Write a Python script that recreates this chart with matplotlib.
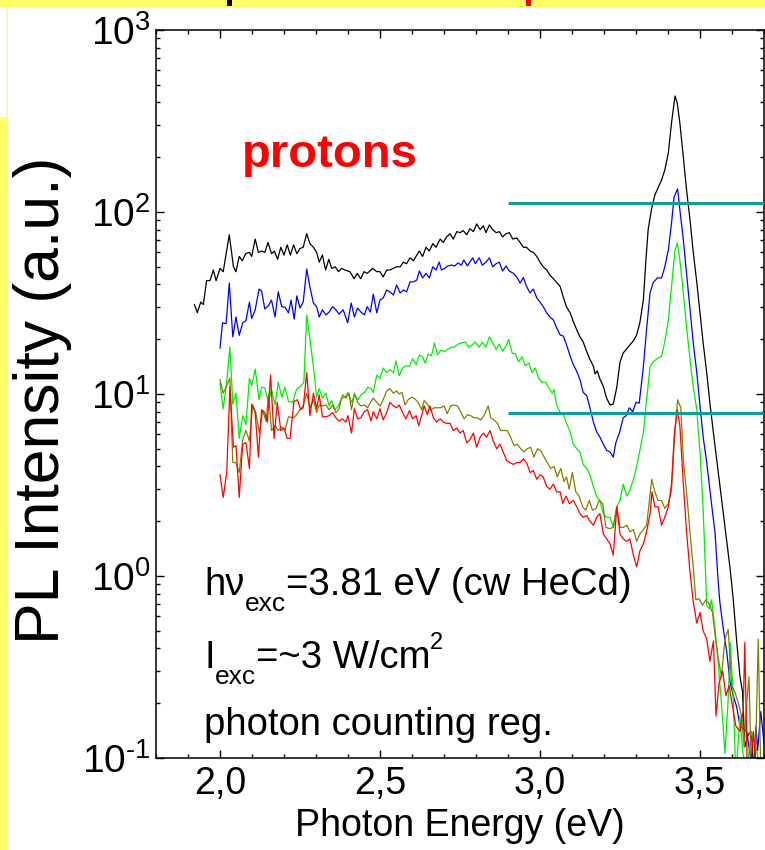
import math
import matplotlib
matplotlib.use("Agg")
import matplotlib.pyplot as plt
from matplotlib.patches import Rectangle
from matplotlib.transforms import offset_copy
from matplotlib.ticker import FixedLocator, MultipleLocator, FuncFormatter, LogLocator

plt.rcParams["font.family"] = ["Liberation Sans", "DejaVu Sans"]
plt.rcParams["mathtext.fontset"] = "custom"
plt.rcParams["mathtext.rm"] = "Liberation Sans"
plt.rcParams["mathtext.it"] = "Liberation Sans"
plt.rcParams["mathtext.bf"] = "Liberation Sans:bold"
plt.rcParams["axes.unicode_minus"] = False

# ---------------------------------------------------------------------------
# spectra (photon energy in eV, PL intensity in a.u.)
# ---------------------------------------------------------------------------
e_black = [1.920, 1.929, 1.940, 1.948, 1.958, 1.969, 1.979, 1.988, 2.000, 2.010,
           2.029, 2.042, 2.050, 2.060, 2.070, 2.080, 2.092, 2.099, 2.110, 2.120,
           2.130, 2.140, 2.150, 2.161, 2.170, 2.180, 2.190, 2.200, 2.210, 2.220,
           2.230, 2.240, 2.250, 2.260, 2.271, 2.281, 2.292, 2.302, 2.310, 2.320,
           2.330, 2.340, 2.349, 2.360, 2.370, 2.380, 2.390, 2.406, 2.419, 2.429,
           2.440, 2.450, 2.460, 2.477, 2.490, 2.500, 2.510, 2.521, 2.531, 2.542,
           2.552, 2.563, 2.573, 2.583, 2.594, 2.604, 2.615, 2.623, 2.633, 2.644,
           2.654, 2.665, 2.675, 2.688, 2.698, 2.708, 2.719, 2.729, 2.740, 2.750,
           2.760, 2.771, 2.781, 2.792, 2.802, 2.813, 2.823, 2.831, 2.842, 2.852,
           2.863, 2.873, 2.883, 2.894, 2.904, 2.915, 2.927, 2.938, 2.948, 2.958,
           2.969, 2.979, 2.990, 3.000, 3.010, 3.021, 3.031, 3.042, 3.052, 3.063,
           3.073, 3.083, 3.094, 3.104, 3.115, 3.125, 3.135, 3.146, 3.156, 3.167,
           3.172, 3.179, 3.187, 3.198, 3.208, 3.219, 3.229, 3.240, 3.250, 3.260,
           3.271, 3.281, 3.292, 3.302, 3.312, 3.323, 3.331, 3.338, 3.349, 3.359,
           3.370, 3.380, 3.390, 3.401, 3.411, 3.422, 3.429, 3.437, 3.448, 3.458,
           3.469, 3.479, 3.490, 3.500, 3.510, 3.521, 3.531, 3.542, 3.552, 3.562,
           3.573, 3.583, 3.594, 3.604, 3.615, 3.625, 3.633, 3.640, 3.651, 3.661,
           3.668]
i_black = [31, 28, 32, 31, 42, 42, 48, 42, 49, 47,
           75, 50, 47, 57, 54, 59, 60, 57, 71, 60,
           61, 60, 68, 59, 61, 55, 64, 58, 66, 58,
           66, 59, 63, 64, 76, 67, 64, 60, 53, 58,
           48, 55, 49, 50, 47, 49, 48, 47, 43, 46,
           43, 47, 46, 49, 47, 47, 44, 48, 48, 49,
           50, 50, 53, 52, 56, 54, 58, 61, 57, 64,
           61, 67, 64, 71, 68, 73, 76, 71, 78, 77,
           79, 75, 81, 78, 86, 80, 84, 77, 85, 80,
           77, 78, 73, 76, 77, 71, 72, 68, 64, 64,
           61, 60, 57, 53, 50, 48, 45, 43, 41, 39,
           34, 30, 28, 25, 22.5, 20.6, 19.3, 17.1, 15.5, 14.2,
           12.9, 13.4, 12.1, 11.0, 9.5, 8.7, 8.8, 10.9, 15.0, 16.8,
           17.7, 18.6, 19.6, 21.1, 24.6, 32.8, 54.5, 80, 105, 124,
           137, 150, 170, 211, 309, 434, 396, 309, 200, 132,
           90, 60, 41, 28, 19, 13.1, 8.9, 6.1, 4.4, 3.2,
           2.2, 1.58, 1.1, 0.74, 0.43, 0.28, 0.23, 0.115, 0.135, 0.14,
           0.08]

e_blue = [2.000, 2.008, 2.019, 2.029, 2.040, 2.050, 2.060, 2.071, 2.081, 2.092,
          2.099, 2.110, 2.122, 2.130, 2.140, 2.151, 2.161, 2.172, 2.182, 2.193,
          2.203, 2.214, 2.222, 2.232, 2.240, 2.250, 2.260, 2.271, 2.281, 2.292,
          2.302, 2.310, 2.320, 2.331, 2.341, 2.352, 2.362, 2.372, 2.385, 2.399,
          2.410, 2.420, 2.430, 2.440, 2.451, 2.460, 2.470, 2.479, 2.490, 2.500,
          2.510, 2.521, 2.531, 2.542, 2.552, 2.563, 2.573, 2.583, 2.594, 2.604,
          2.615, 2.623, 2.633, 2.644, 2.654, 2.665, 2.675, 2.685, 2.692, 2.702,
          2.712, 2.723, 2.733, 2.744, 2.754, 2.762, 2.773, 2.783, 2.790, 2.798,
          2.810, 2.820, 2.831, 2.842, 2.852, 2.863, 2.873, 2.883, 2.894, 2.904,
          2.917, 2.927, 2.938, 2.948, 2.958, 2.969, 2.979, 2.990, 3.000, 3.010,
          3.021, 3.031, 3.042, 3.052, 3.063, 3.073, 3.083, 3.094, 3.104, 3.115,
          3.125, 3.135, 3.146, 3.156, 3.167, 3.177, 3.187, 3.198, 3.208, 3.219,
          3.229, 3.237, 3.248, 3.260, 3.269, 3.279, 3.290, 3.300, 3.310, 3.323,
          3.333, 3.344, 3.354, 3.367, 3.380, 3.390, 3.401, 3.411, 3.419, 3.430,
          3.437, 3.448, 3.458, 3.469, 3.479, 3.490, 3.500, 3.510, 3.521, 3.531,
          3.547, 3.557, 3.562, 3.573, 3.583, 3.594, 3.604, 3.615, 3.625, 3.635,
          3.646, 3.656, 3.667, 3.675, 3.680, 3.690, 3.700]
i_blue = [17.9, 24.6, 24.3, 40.7, 20.6, 26.5, 21, 24.6, 25.3, 32,
          26, 29, 37.7, 36.8, 29.3, 30.5, 32.8, 26.5, 36.4, 30.2,
          30, 27.9, 32.8, 25.8, 34.6, 29.7, 32, 48.6, 38.7, 31.6,
          30.2, 26.5, 29, 27.2, 28.2, 30.2, 29, 27.5, 29, 24.6,
          31.6, 26.5, 29.7, 28.2, 27.2, 30.2, 28.2, 35.4, 27.9, 32.8,
          33.7, 37.3, 36.4, 35, 39.7, 35.9, 37.3, 36.4, 41.3, 41.3,
          42.3, 47.4, 43.4, 46, 43.4, 50, 48, 53.1, 48, 49,
          50.5, 51.1, 50.5, 52.5, 51, 54.5, 50.5, 53.8, 56, 52,
          56, 51, 53, 56, 50, 52, 53, 47.4, 50.5, 47.4,
          46, 44, 40.7, 43.7, 39, 35.9, 37.7, 33.7, 32, 30.2,
          27.9, 26.5, 25.5, 23.1, 21.1, 20.8, 18.6, 16.2, 14.5, 13.3,
          12, 10.2, 9.8, 8.4, 7.0, 6.2, 5.8, 5.3, 4.9, 4.8,
          4.5, 5.4, 6.1, 7.4, 7.6, 8.4, 8.0, 9.0, 8.9, 14.1,
          22.6, 36, 41, 43.4, 43.4, 50, 61.8, 87, 121, 134,
          103, 70, 46, 29, 19, 13.1, 8.6, 5.8, 4.2, 2.96,
          1.72, 0.92, 0.72, 0.51, 0.39, 0.26, 0.22, 0.19, 0.15, 0.145,
          0.14, 0.106, 0.08, 0.15, 0.11, 0.18, 0.12]

e_green = [2.000, 2.010, 2.021, 2.031, 2.040, 2.050, 2.060, 2.071, 2.081, 2.092,
           2.099, 2.110, 2.122, 2.130, 2.140, 2.151, 2.161, 2.172, 2.182, 2.193,
           2.203, 2.214, 2.227, 2.240, 2.250, 2.262, 2.271, 2.281, 2.292, 2.302,
           2.310, 2.320, 2.331, 2.341, 2.349, 2.359, 2.370, 2.380, 2.390, 2.400,
           2.411, 2.421, 2.431, 2.441, 2.452, 2.462, 2.472, 2.479, 2.490, 2.500,
           2.510, 2.521, 2.531, 2.542, 2.550, 2.560, 2.571, 2.581, 2.592, 2.602,
           2.613, 2.623, 2.633, 2.641, 2.651, 2.661, 2.670, 2.680, 2.690, 2.702,
           2.712, 2.723, 2.733, 2.744, 2.754, 2.767, 2.777, 2.788, 2.798, 2.810,
           2.820, 2.831, 2.842, 2.852, 2.863, 2.873, 2.883, 2.894, 2.902, 2.913,
           2.923, 2.933, 2.944, 2.954, 2.965, 2.975, 2.985, 2.996, 3.006, 3.017,
           3.027, 3.038, 3.044, 3.052, 3.063, 3.073, 3.083, 3.094, 3.104, 3.115,
           3.125, 3.135, 3.146, 3.156, 3.167, 3.177, 3.187, 3.198, 3.208, 3.219,
           3.229, 3.240, 3.250, 3.260, 3.271, 3.281, 3.292, 3.302, 3.312, 3.323,
           3.331, 3.344, 3.352, 3.365, 3.380, 3.390, 3.401, 3.411, 3.422, 3.429,
           3.437, 3.448, 3.458, 3.469, 3.479, 3.490, 3.495, 3.500, 3.510, 3.521,
           3.529, 3.536, 3.547, 3.557, 3.567, 3.578, 3.588, 3.595, 3.604, 3.612,
           3.625, 3.633, 3.645, 3.660, 3.677, 3.690]
i_green = [11.5, 8.3, 11.6, 18.1, 8.8, 10.1, 5.7, 7.6, 6.8, 12.2,
           11.1, 13.7, 9.3, 10.9, 10.8, 9.0, 10.6, 8.7, 11.6, 9.6,
           10.9, 9.1, 9.0, 10.7, 10.9, 11.6, 27.2, 19.8, 14.1, 9.6,
           10.7, 9.5, 10.1, 8.6, 9.2, 8.2, 8.6, 9.5, 9.6, 10.2,
           9.0, 9.9, 9.3, 9.9, 10.2, 10.9, 10.7, 10.2, 12.7, 12.2,
           13.9, 13.1, 13.6, 13.1, 15.2, 12.6, 13.9, 14.3, 14.2, 15.6,
           14.5, 16.4, 16, 14.8, 16.6, 16.2, 19.1, 16.4, 17.4, 17.1,
           17.6, 18.1, 18.1, 18.8, 19.1, 19.3, 18.1, 18.6, 19.3, 18.1,
           19.3, 18.1, 20.6, 19.1, 17.6, 18.8, 17.2, 18.4, 20, 16.8,
           16.6, 15.0, 16, 14.3, 14.8, 13.1, 13.9, 12.2, 11.6, 11.6,
           10.9, 10.1, 10.6, 8.7, 7.9, 7.7, 6.9, 6.2, 5.3, 5.0,
           4.8, 4.1, 3.9, 3.6, 3.1, 2.75, 2.6, 2.2, 2.1, 2.1,
           1.85, 2.4, 2.6, 3.2, 2.75, 2.96, 3.4, 4.0, 4.9, 6.1,
           8.6, 14.1, 14.9, 15.6, 16.1, 19.4, 25.5, 38.8, 61.8, 67.6,
           54.5, 36, 23.3, 15.4, 10.9, 8.2, 6.2, 4.8, 2.3, 0.69,
           0.66, 0.74, 0.51, 0.33, 0.2, 0.106, 0.21, 0.43, 0.21, 0.08,
           0.17, 0.11, 0.08, 0.14, 0.11, 0.08]

e_olive = [2.000, 2.010, 2.021, 2.031, 2.040, 2.050, 2.060, 2.071, 2.081, 2.092,
           2.102, 2.112, 2.123, 2.133, 2.144, 2.152, 2.161, 2.172, 2.182, 2.193,
           2.203, 2.214, 2.229, 2.240, 2.250, 2.260, 2.271, 2.281, 2.292, 2.302,
           2.310, 2.320, 2.331, 2.341, 2.352, 2.362, 2.372, 2.383, 2.393, 2.403,
           2.411, 2.420, 2.430, 2.440, 2.451, 2.461, 2.472, 2.479, 2.490, 2.500,
           2.510, 2.521, 2.531, 2.542, 2.552, 2.560, 2.569, 2.578, 2.588, 2.599,
           2.609, 2.619, 2.630, 2.638, 2.648, 2.659, 2.669, 2.679, 2.690, 2.700,
           2.710, 2.721, 2.731, 2.742, 2.752, 2.763, 2.773, 2.783, 2.794, 2.804,
           2.815, 2.825, 2.838, 2.846, 2.856, 2.867, 2.877, 2.888, 2.898, 2.908,
           2.919, 2.929, 2.940, 2.950, 2.960, 2.971, 2.981, 2.992, 3.002, 3.013,
           3.023, 3.033, 3.044, 3.054, 3.065, 3.075, 3.083, 3.091, 3.101, 3.112,
           3.122, 3.133, 3.143, 3.154, 3.164, 3.175, 3.185, 3.196, 3.206, 3.217,
           3.229, 3.240, 3.250, 3.260, 3.271, 3.281, 3.292, 3.302, 3.312, 3.323,
           3.333, 3.341, 3.349, 3.359, 3.369, 3.380, 3.390, 3.401, 3.411, 3.420,
           3.430, 3.440, 3.448, 3.458, 3.469, 3.479, 3.487, 3.497, 3.508, 3.518,
           3.529, 3.539, 3.550, 3.560, 3.567, 3.578, 3.588, 3.599, 3.609, 3.620,
           3.630, 3.638, 3.646, 3.653, 3.661, 3.672, 3.682, 3.690]
i_olive = [12.0, 10.1, 11.1, 12.2, 4.2, 4.2, 3.7, 5.6, 6.3, 5.5,
           8.7, 7.9, 6.1, 8.1, 7.1, 9.9, 6.3, 6.7, 6.3, 6.6,
           6.3, 7.5, 7.4, 7.7, 8.2, 8.6, 10.1, 8.4, 9.3, 7.9,
           8.7, 8.6, 8.7, 8.2, 8.7, 7.9, 8.3, 9.9, 9.5, 10.1,
           8.2, 10.1, 9.0, 8.6, 8.7, 8.4, 9.1, 9.5, 9.0, 8.6,
           9.3, 10.4, 10.7, 10.1, 10.4, 10.0, 10.2, 8.7, 9.3, 9.6,
           9.4, 9.0, 8.2, 9.2, 8.8, 8.1, 8.4, 8.4, 8.4, 8.6,
           7.8, 8.6, 8.7, 8.6, 8.0, 7.3, 7.7, 7.6, 7.4, 7.4,
           7.2, 7.6, 8.6, 7.4, 7.2, 6.9, 6.3, 6.3, 6.3, 5.8,
           5.2, 5.3, 5.0, 4.8, 5.0, 5.1, 4.5, 5.0, 4.9, 4.5,
           4.2, 3.9, 4.0, 3.5, 3.9, 3.3, 3.5, 3.0, 3.7, 2.9,
           2.75, 2.4, 2.3, 2.6, 2.3, 2.35, 2.6, 2.5, 1.85, 1.82,
           1.85, 2.4, 1.85, 1.85, 1.9, 1.75, 1.8, 1.55, 1.7, 1.8,
           1.9, 2.5, 3.4, 2.9, 2.6, 2.6, 2.35, 2.5, 2.96, 5.6,
           9.3, 8.4, 4.3, 2.9, 1.72, 1.12, 0.74, 0.75, 0.69, 0.74,
           0.7, 0.63, 0.43, 0.33, 0.28, 0.45, 0.51, 0.25, 0.23, 0.2,
           0.17, 0.115, 0.2, 0.28, 0.08, 0.08, 0.45, 0.08]

e_red = [2.000, 2.010, 2.021, 2.031, 2.042, 2.050, 2.060, 2.071, 2.081, 2.092,
         2.099, 2.110, 2.120, 2.130, 2.140, 2.148, 2.158, 2.169, 2.179, 2.190,
         2.200, 2.210, 2.219, 2.231, 2.242, 2.252, 2.260, 2.271, 2.281, 2.292,
         2.302, 2.310, 2.320, 2.331, 2.341, 2.352, 2.362, 2.372, 2.383, 2.393,
         2.400, 2.411, 2.420, 2.430, 2.440, 2.451, 2.461, 2.472, 2.479, 2.490,
         2.500, 2.510, 2.521, 2.531, 2.542, 2.552, 2.560, 2.571, 2.581, 2.592,
         2.602, 2.613, 2.621, 2.630, 2.638, 2.648, 2.656, 2.667, 2.677, 2.688,
         2.698, 2.708, 2.719, 2.729, 2.740, 2.750, 2.760, 2.771, 2.781, 2.792,
         2.802, 2.813, 2.823, 2.833, 2.844, 2.854, 2.865, 2.875, 2.885, 2.896,
         2.906, 2.917, 2.927, 2.938, 2.948, 2.958, 2.969, 2.979, 2.990, 3.000,
         3.010, 3.021, 3.031, 3.042, 3.052, 3.063, 3.071, 3.081, 3.092, 3.104,
         3.115, 3.125, 3.135, 3.146, 3.156, 3.167, 3.177, 3.187, 3.198, 3.208,
         3.219, 3.229, 3.240, 3.250, 3.260, 3.271, 3.281, 3.292, 3.302, 3.312,
         3.323, 3.333, 3.344, 3.350, 3.359, 3.369, 3.380, 3.390, 3.401, 3.411,
         3.420, 3.429, 3.437, 3.448, 3.458, 3.469, 3.479, 3.490, 3.500, 3.510,
         3.521, 3.531, 3.542, 3.550, 3.560, 3.571, 3.581, 3.591, 3.602, 3.612,
         3.625, 3.635, 3.640, 3.648, 3.656, 3.667, 3.677]
i_red = [3.6, 2.7, 3.7, 10.9, 5.1, 5.2, 2.7, 5.3, 5.4, 3.9,
         8.8, 7.9, 4.5, 8.2, 7.9, 7.0, 12.7, 5.7, 9.0, 6.3,
         6.5, 5.7, 5.7, 9.1, 9.3, 8.2, 8.4, 13.1, 7.6, 10.1,
         8.3, 9.9, 7.5, 7.5, 7.6, 7.9, 7.4, 7.1, 7.3, 7.0,
         7.6, 6.1, 8.3, 7.3, 7.4, 8.0, 8.2, 7.1, 8.0, 7.3,
         8.3, 7.2, 7.9, 9.0, 8.6, 8.4, 8.7, 7.9, 7.3, 8.1,
         7.3, 7.6, 6.7, 7.6, 8.6, 7.7, 8.6, 7.4, 7.0, 7.3,
         7.0, 6.9, 6.9, 6.3, 6.5, 6.1, 6.3, 5.4, 5.6, 6.1,
         5.1, 5.8, 6.1, 5.8, 6.3, 5.5, 5.0, 5.3, 4.8, 4.3,
         4.2, 4.1, 4.2, 4.2, 4.4, 4.2, 3.7, 3.8, 3.4, 3.6,
         3.5, 3.1, 3.0, 3.2, 2.9, 2.9, 2.5, 2.75, 2.5, 2.6,
         2.4, 2.2, 2.1, 2.15, 2.0, 1.9, 2.1, 2.2, 1.7, 1.6,
         1.5, 1.3, 2.4, 1.7, 1.6, 1.55, 1.6, 1.3, 1.12, 1.37,
         1.5, 1.75, 2.2, 2.9, 2.4, 2.4, 1.9, 2.1, 2.4, 3.2,
         6.1, 8.2, 6.7, 3.2, 1.75, 1.04, 0.72, 0.55, 0.63, 0.5,
         0.45, 0.34, 0.44, 0.17, 0.26, 0.3, 0.22, 0.25, 0.19, 0.15,
         0.14, 0.18, 0.43, 0.08, 0.08, 0.14, 0.08]

series = [
    (e_black, i_black, "black"),
    (e_blue, i_blue, "#0000ff"),
    (e_green, i_green, "#00ee00"),
    (e_olive, i_olive, "#808000"),
    (e_red, i_red, "#ff0000"),
]

# horizontal reference levels (teal)
ref_levels = [112, 7.9]
ref_from, ref_to = 2.9, 3.7

xticks = [2.0, 2.5, 3.0, 3.5]
xtick_labels = ["2,0", "2,5", "3,0", "3,5"]

# ---------------------------------------------------------------------------
W, H = 765, 850
fig = plt.figure(figsize=(W / 100, H / 100), dpi=100)
fig.patch.set_facecolor("white")

# yellow slide background peeking out at top and left
yellow = "#ffff66"
fig.add_artist(Rectangle((0, 1 - 7 / H), 1, 7 / H, transform=fig.transFigure,
                         facecolor=yellow, edgecolor="none", zorder=0))
fig.add_artist(Rectangle((0, 0), 8 / W, 1 - 117 / H, transform=fig.transFigure,
                         facecolor=yellow, edgecolor="none", zorder=0))
fig.add_artist(Rectangle((6 / W, 1 - 117 / H), 2 / W, 110 / H, transform=fig.transFigure,
                         facecolor="#f4f4c8", edgecolor="none", zorder=0))
# cut-off title fragments
fig.add_artist(Rectangle((227 / W, 1 - 6 / H), 5 / W, 6 / H, transform=fig.transFigure,
                         facecolor="black", edgecolor="none", zorder=1))
fig.add_artist(Rectangle((526 / W, 1 - 6 / H), 5 / W, 6 / H, transform=fig.transFigure,
                         facecolor="red", edgecolor="none", zorder=1))

ax = fig.add_axes([156 / W, 92 / H, 608 / W, 728 / H])
for e, i, c in series:
    ax.plot(e, i, color=c, lw=0.9)
ax.hlines(ref_levels, ref_from, ref_to, color="#119c9c", lw=2.2, zorder=3)

ax.set_yscale("log")
ax.set_xlim(1.8, 3.7)
ax.set_ylim(0.1, 1000)

ax.xaxis.set_major_locator(FixedLocator(xticks))
ax.xaxis.set_major_formatter(FuncFormatter(lambda v, p: xtick_labels[xticks.index(round(v, 1))]
                                           if round(v, 1) in xticks else ""))
ax.xaxis.set_minor_locator(MultipleLocator(0.1))
ax.yaxis.set_major_locator(LogLocator(base=10, numticks=10))
ax.yaxis.set_minor_locator(LogLocator(base=10, subs=range(2, 10), numticks=20))


def decade_label(v, pos):
    ex = str(int(round(math.log10(v)))).replace("-", "\u2010")
    return r"$\mathdefault{10^{%s}}$" % ex


ax.yaxis.set_major_formatter(FuncFormatter(decade_label))

ax.tick_params(which="both", direction="in", top=True, right=True, width=1.0)
ax.tick_params(which="major", length=5.5)
ax.tick_params(which="minor", length=3)
ax.tick_params(axis="y", which="major", labelsize=28, pad=4)
ax.tick_params(axis="x", which="major", labelsize=27, pad=6)
for sp in ax.spines.values():
    sp.set_linewidth(1.1)

ax.set_xlabel("Photon Energy (eV)", fontsize=27, labelpad=4)
fig.text(43 / W, 1 - 400 / H, "PL Intensity (a.u.)", rotation=90, fontsize=45,
         ha="center", va="center")

ax.text(0.141, 0.812, "protons", transform=ax.transAxes, color="red",
        fontsize=34, fontweight="bold", va="baseline")

# annotation lines with deep subscripts, placed piece by piece
renderer = fig.canvas.get_renderer()


def rich_line(x, y, pieces):
    dx = 0.0
    for s, size, dy in pieces:
        tr = offset_copy(ax.transAxes, fig=fig, x=dx, y=dy, units="dots")
        t = ax.text(x, y, s, transform=tr, fontsize=size, va="baseline", ha="left")
        dx += t.get_window_extent(renderer).width


rich_line(0.079, 0.224, [("hν", 27.5, 0), ("exc", 19, -16), ("=3.81 eV (cw HeCd)", 27.5, 0)])
rich_line(0.079, 0.124, [("I", 27.5, 0), ("exc", 19, -16), ("=~3 W/cm", 27.5, 0), ("2", 17, 19)])
rich_line(0.079, 0.032, [("photon counting reg.", 27.5, 0)])

fig.savefig("out.png", dpi=100)
